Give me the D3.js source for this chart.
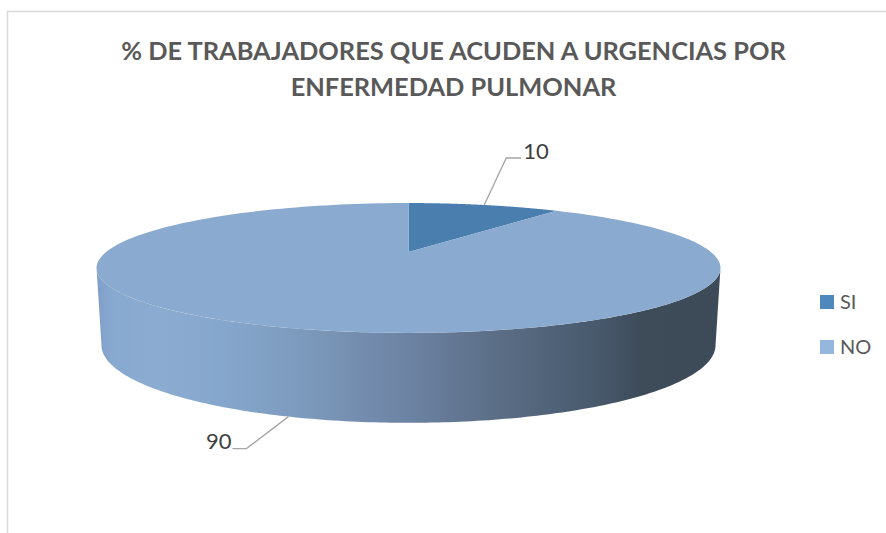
<!DOCTYPE html>
<html>
<head>
<meta charset="utf-8">
<script src="https://cdn.jsdelivr.net/npm/d3@7"></script>
<style>
  html, body { margin: 0; padding: 0; background: #fff; }
  svg { display: block; }
  text { font-family: Lato, "Open Sans", sans-serif; }
</style>
</head>
<body>
<div id="chart"></div>
<script>
// Values
const categories = ["SI", "NO"];
const values = [10, 90];
const titleLines = ["% DE TRABAJADORES QUE ACUDEN A URGENCIAS POR", "ENFERMEDAD PULMONAR"];

const width = 886, height = 533;

const svg = d3.select("#chart").append("svg")
    .attr("width", width)
    .attr("height", height);

// Chart frame, only the top and left edges are in the picture
svg.append("path")
    .attr("d", "M886,11.5H7.5V533")
    .attr("fill", "none")
    .attr("stroke", "#d9d9d9")
    .attr("stroke-width", 1.5);

// Title
svg.selectAll(".title").data(titleLines).join("text")
    .attr("class", "title")
    .attr("x", 453.5)
    .attr("y", (d, i) => 60 + i * 36)
    .attr("text-anchor", "middle")
    .attr("font-size", 25.4)
    .attr("font-weight", 700)
    .attr("fill", "#595959")
    .text(d => d);

// Perspective of the disc, k is how much the back edge shrinks
const k = 0.246;
function project(angle, p) {
    const a = Math.sin(angle), b = Math.cos(angle);
    const w = 1 + k * b;
    return [p.cx + p.rx * a / w, p.cy - p.ry * b / w];
}
const topFace = { cx: 408.5, cy: 252, rx: 302.4, ry: 61 };
const bottomFace = { cx: 408.5, cy: 326, rx: 297.6, ry: 73 };

const pie = d3.pie().sort(null).startAngle(0).endAngle(2 * Math.PI);
const slices = pie(values);

const line = d3.line();
// Points along the rim between two angles
function rim(a0, a1, face) {
    return d3.range(0, 181).map(i => project(a0 + (a1 - a0) * i / 180, face));
}

// Side wall with the dark shading to the right
const defs = svg.append("defs");
const wallGrad = defs.append("linearGradient")
    .attr("id", "wall")
    .attr("gradientUnits", "userSpaceOnUse")
    .attr("x1", 96).attr("x2", 720).attr("y1", 0).attr("y2", 0);
const wallStops = [
    [0, "#7f9fc8"], [0.03, "#88a9d0"], [0.1, "#8cabd0"], [0.2, "#86a7cd"],
    [0.33, "#7c9abc"], [0.49, "#6e84a5"], [0.65, "#5a6d85"],
    [0.81, "#47586b"], [0.87, "#3e4c5a"], [1, "#3d4a58"]
];
wallGrad.selectAll("stop").data(wallStops).join("stop")
    .attr("offset", d => d[0])
    .attr("stop-color", d => d[1]);

// Angles where the rim is widest, the wall runs between them through the front
const edge = Math.acos(-k);
const wallPts = rim(edge, 2 * Math.PI - edge, topFace)
    .concat(rim(2 * Math.PI - edge, edge, bottomFace));
svg.append("path")
    .attr("d", line(wallPts) + "Z")
    .attr("fill", "url(#wall)");

// Top face, one path per slice
const sliceColor = d3.scaleOrdinal().domain(categories).range(["#4a7eaf", "#8aaacf"]);
svg.selectAll(".slice").data(slices).join("path")
    .attr("class", "slice")
    .attr("d", d => line([[topFace.cx, topFace.cy], ...rim(d.startAngle, d.endAngle, topFace)]) + "Z")
    .attr("fill", (d, i) => sliceColor(categories[i]));

// Data labels with leader lines
const mid = d => (d.startAngle + d.endAngle) / 2;
const labelOffsets = [
    { elbow: [22, -47], end: [37, -47], text: [39, -54], anchor: "start" },
    { elbow: [-42, 32], end: [-56, 32], text: [-57, 25], anchor: "end" }
];
const faces = [topFace, bottomFace];

slices.forEach((d, i) => {
    const start = project(mid(d), faces[i]);
    const o = labelOffsets[i];
    svg.append("path")
        .attr("d", line([start,
            [start[0] + o.elbow[0], start[1] + o.elbow[1]],
            [start[0] + o.end[0], start[1] + o.end[1]]]))
        .attr("fill", "none")
        .attr("stroke", "#a6a6a6")
        .attr("stroke-width", 1.3);
    svg.append("text")
        .attr("x", start[0] + o.text[0])
        .attr("y", start[1] + o.text[1])
        .attr("dy", "0.35em")
        .attr("text-anchor", o.anchor)
        .attr("font-size", 22)
        .attr("fill", "#404040")
        .text(d.value);
});

// Legend
const legendColor = d3.scaleOrdinal().domain(categories).range(["#4f88bd", "#95b7de"]);
const legendY = d3.scalePoint().domain(categories).range([302, 347]);
const legend = svg.selectAll(".legend").data(categories).join("g")
    .attr("class", "legend")
    .attr("transform", d => `translate(820,${legendY(d)})`);
legend.append("rect")
    .attr("y", -7)
    .attr("width", 14)
    .attr("height", 14)
    .attr("fill", d => legendColor(d));
legend.append("text")
    .attr("x", 20)
    .attr("dy", "0.35em")
    .attr("font-size", 20)
    .attr("fill", "#595959")
    .text(d => d);
</script>
</body>
</html>
